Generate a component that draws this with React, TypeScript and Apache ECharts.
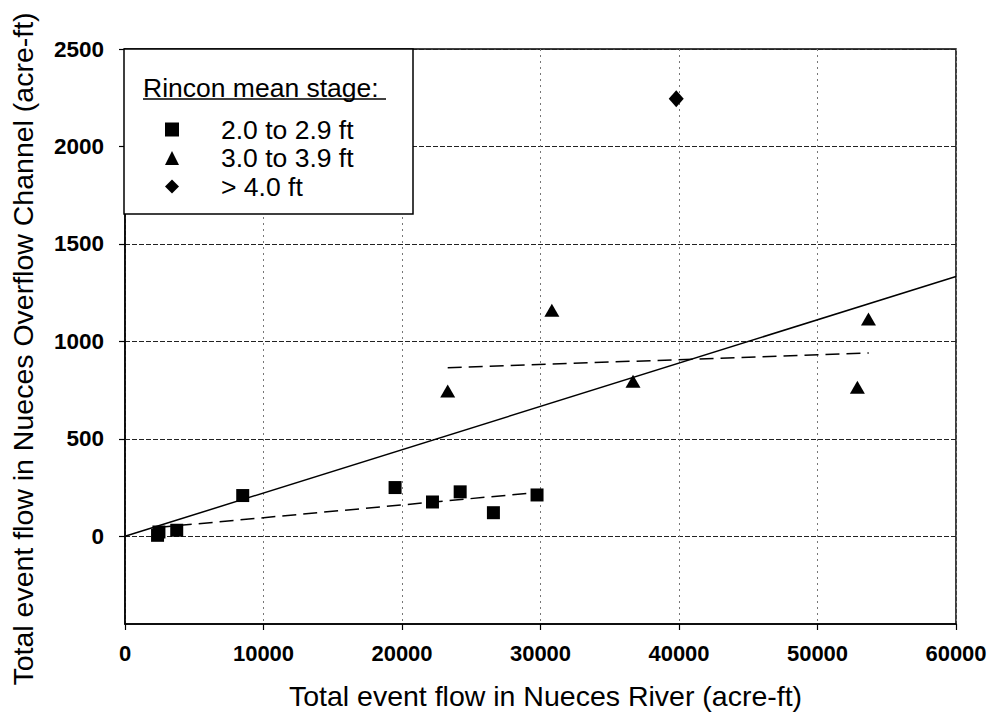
import React, { useEffect, useRef } from "react";
import * as echarts from "echarts";

// ---- data ----
const squareX = [2350, 2450, 3735, 8500, 19500, 22200, 24200, 26600, 29750];
const squareY = [5, 22, 31, 209, 250, 176, 228, 121, 212];

const triangleX = [23300, 30820, 36680, 52880, 53680];
const triangleY = [745, 1160, 795, 765, 1115];

const diamondX = [39800];
const diamondY = [2245];

// trend lines (end points)
const allTrendX = [0, 60000];
const allTrendY = [0, 1333];
const squareTrendX = [2300, 29800];
const squareTrendY = [45, 225];
const triangleTrendX = [23300, 53700];
const triangleTrendY = [865, 940];

const xTicks = [0, 10000, 20000, 30000, 40000, 50000, 60000];
const yTicks = [0, 500, 1000, 1500, 2000, 2500];
const yMin = -450;

const seriesNames = ["2.0 to 2.9 ft", "3.0 to 3.9 ft", "> 4.0 ft"];
const legendTitle = "Rincon mean stage:";
const xTitle = "Total event flow in Nueces River (acre-ft)";
const yTitle = "Total event flow in Nueces Overflow Channel (acre-ft)";

const zip = (xs: number[], ys: number[]) => xs.map((x, i) => [x, ys[i]]);

const FONT = "Arial, 'Liberation Sans', Helvetica, sans-serif";

export default function App() {
  const ref = useRef<HTMLDivElement>(null);

  useEffect(() => {
    if (!ref.current) return;
    const chart = echarts.init(ref.current, undefined, { renderer: "svg" });

    const markStyle = { color: "#000", opacity: 1 };

    const option: any = {
      animation: false,
      backgroundColor: "#fff",
      textStyle: { fontFamily: FONT, color: "#000" },
      grid: {
        left: 124,
        right: 34,
        top: 49,
        bottom: 91,
        show: true,
        borderColor: "#000",
        borderWidth: 1.5,
        backgroundColor: "transparent",
      },
      xAxis: {
        type: "value",
        min: xTicks[0],
        max: xTicks[xTicks.length - 1],
        interval: 10000,
        axisLine: { show: true, onZero: false, lineStyle: { color: "#000", width: 1.5 } },
        axisTick: { show: true, inside: false, length: 6, lineStyle: { color: "#000", width: 1.2 } },
        axisLabel: {
          margin: 18,
          fontSize: 22,
          fontWeight: "bold",
          color: "#000",
          fontFamily: FONT,
          formatter: (v: number) => String(v),
        },
        splitLine: {
          show: true,
          lineStyle: { color: "#777", width: 1, type: [2, 4] },
        },
        name: xTitle,
        nameLocation: "middle",
        nameGap: 57,
        nameTextStyle: { fontSize: 28.5, color: "#000", fontFamily: FONT, padding: [0, 0, 0, 10] },
      },
      yAxis: {
        type: "value",
        min: yMin,
        max: yTicks[yTicks.length - 1],
        axisLine: { show: true, onZero: false, lineStyle: { color: "#000", width: 1.5 } },
        axisTick: {
          show: true,
          inside: false,
          length: 6,
          customValues: yTicks,
          lineStyle: { color: "#000", width: 1.2 },
        },
        axisLabel: {
          margin: 21,
          fontSize: 22.5,
          fontWeight: "bold",
          color: "#000",
          fontFamily: FONT,
          customValues: yTicks,
          formatter: (v: number) => String(v),
        },
        splitLine: {
          show: true,
          lineStyle: { color: "#222", width: 1, type: [5, 2] },
        },
        name: yTitle,
        nameLocation: "middle",
        nameGap: 88,
        nameTextStyle: { fontSize: 28.5, color: "#000", fontFamily: FONT, padding: [0, 0, 0, -25] },
      },
      legend: {
        data: seriesNames,
        orient: "vertical",
        left: 165,
        top: 116,
        padding: 0,
        itemWidth: 14,
        itemHeight: 14,
        itemGap: 1.5,
        z: 5,
        selectedMode: false,
        textStyle: {
          fontSize: 26.5,
          lineHeight: 25,
          color: "#000",
          fontFamily: FONT,
          padding: [0, 0, 0, 37],
        },
      },
      graphic: [
        {
          type: "rect",
          z: 3,
          shape: { x: 124, y: 49, width: 289, height: 165 },
          style: { fill: "#fff", stroke: "#000", lineWidth: 1.5 },
        },
        {
          type: "text",
          z: 4,
          x: 143,
          y: 88,
          style: {
            text: legendTitle,
            fontSize: 26.5,
            fontFamily: FONT,
            fill: "#000",
            verticalAlign: "middle",
            align: "left",
          },
        },
        {
          type: "line",
          z: 4,
          shape: { x1: 143, y1: 99, x2: 386, y2: 99 },
          style: { stroke: "#000", lineWidth: 1.5 },
        },
      ],
      series: [
        {
          name: seriesNames[0],
          type: "scatter",
          symbol: "rect",
          symbolSize: 13,
          itemStyle: markStyle,
          data: zip(squareX, squareY),
          z: 6,
        },
        {
          name: seriesNames[1],
          type: "scatter",
          symbol: "triangle",
          symbolSize: [15, 13],
          itemStyle: markStyle,
          data: zip(triangleX, triangleY),
          z: 6,
        },
        {
          name: seriesNames[2],
          type: "scatter",
          symbol: "diamond",
          symbolSize: [15, 17],
          itemStyle: markStyle,
          data: zip(diamondX, diamondY),
          z: 6,
        },
        {
          name: "All events trend",
          type: "line",
          showSymbol: false,
          symbol: "none",
          lineStyle: { color: "#000", width: 1.5, type: "solid" },
          data: zip(allTrendX, allTrendY),
          z: 5,
        },
        {
          name: "2.0 to 2.9 ft trend",
          type: "line",
          showSymbol: false,
          symbol: "none",
          lineStyle: { color: "#000", width: 1.5, type: [14, 7] },
          data: zip(squareTrendX, squareTrendY),
          z: 5,
        },
        {
          name: "3.0 to 3.9 ft trend",
          type: "line",
          showSymbol: false,
          symbol: "none",
          lineStyle: { color: "#000", width: 1.5, type: [14, 7] },
          data: zip(triangleTrendX, triangleTrendY),
          z: 5,
        },
      ],
    };

    chart.setOption(option);
    return () => chart.dispose();
  }, []);

  return (
    <div
      ref={ref}
      style={{ position: "fixed", left: 0, top: 0, width: 990, height: 715, background: "#fff" }}
    />
  );
}
